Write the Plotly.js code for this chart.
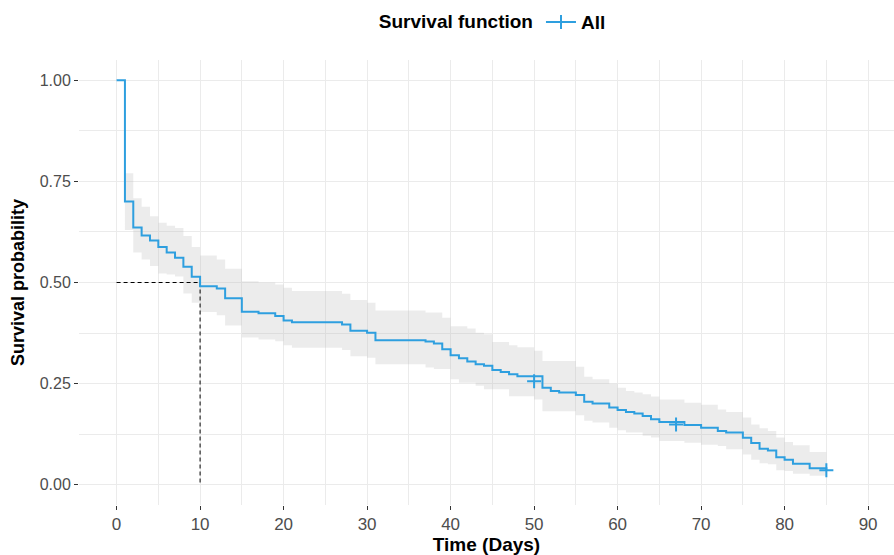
<!DOCTYPE html>
<html>
<head>
<meta charset="utf-8">
<script src="https://cdn.plot.ly/plotly-3.0.1.min.js"></script>
<style>html,body{margin:0;padding:0;background:#fff;}#chart{width:894px;height:555px;}</style>
</head>
<body>
<div id="chart"></div>
<script>
// Step times (days) and Kaplan-Meier estimates
const times = [0,1,2,3,4,5,6,7,8,9,10,12,13,15,17,19,20,21,27,28,30,31,37,38,39,40,41,42,43,44,45,46,47,48,50,51,52,53,55,56,57,59,60,61,62,63,64,65,68,70,72,73,75,76,77,78,79,80,81,83,85];
const surv  = [1.000,0.700,0.636,0.616,0.604,0.588,0.574,0.561,0.539,0.514,0.491,0.485,0.461,0.428,0.424,0.417,0.406,0.402,0.396,0.381,0.376,0.357,0.354,0.349,0.335,0.320,0.313,0.305,0.298,0.294,0.284,0.279,0.273,0.268,0.268,0.240,0.232,0.228,0.222,0.205,0.201,0.191,0.185,0.180,0.176,0.170,0.162,0.155,0.148,0.141,0.133,0.129,0.116,0.103,0.089,0.085,0.068,0.062,0.052,0.041,0.036];
const upper = [1.000,0.770,0.708,0.687,0.664,0.648,0.640,0.635,0.615,0.588,0.567,0.557,0.534,0.503,0.500,0.495,0.487,0.479,0.472,0.457,0.450,0.431,0.426,0.426,0.413,0.392,0.392,0.386,0.376,0.372,0.353,0.353,0.345,0.340,0.331,0.306,0.306,0.306,0.292,0.267,0.261,0.250,0.240,0.232,0.228,0.224,0.218,0.211,0.203,0.198,0.186,0.180,0.166,0.149,0.140,0.133,0.117,0.106,0.098,0.081,0.081];
const lower = [1.000,0.630,0.574,0.557,0.541,0.522,0.520,0.515,0.473,0.450,0.427,0.419,0.394,0.364,0.359,0.355,0.345,0.339,0.333,0.318,0.314,0.298,0.290,0.286,0.286,0.261,0.252,0.252,0.245,0.236,0.236,0.236,0.219,0.219,0.211,0.182,0.182,0.182,0.172,0.158,0.154,0.141,0.135,0.129,0.129,0.121,0.117,0.108,0.104,0.099,0.096,0.088,0.075,0.062,0.053,0.051,0.036,0.034,0.027,0.022,0.022];

// Censored observations
const censorTimes = [50, 67, 85];
const censorSurv  = [0.256, 0.149, 0.036];

// Median survival reference
const medianTime = 10;
const medianSurv = 0.5;

// Axis ticks
const xTicks = [0,10,20,30,40,50,60,70,80,90];
const yTicks = [0,0.25,0.5,0.75,1];

const blue = '#2E9FDF';

const traces = [
  {x: times, y: upper, type: 'scatter', mode: 'lines', line: {shape: 'hv', width: 0, color: 'rgba(0,0,0,0)'}, hoverinfo: 'skip', showlegend: false},
  {x: times, y: lower, type: 'scatter', mode: 'lines', line: {shape: 'hv', width: 0, color: 'rgba(0,0,0,0)'}, fill: 'tonexty', fillcolor: 'rgba(185,185,185,0.28)', hoverinfo: 'skip', showlegend: false},
  {x: [0, medianTime], y: [medianSurv, medianSurv], type: 'scatter', mode: 'lines', line: {color: '#000', width: 1, dash: '4px,3px'}, showlegend: false, hoverinfo: 'skip'},
  {x: [medianTime, medianTime], y: [medianSurv, 0], type: 'scatter', mode: 'lines', line: {color: '#000', width: 1, dash: '4px,3px'}, showlegend: false, hoverinfo: 'skip'},
  {x: times, y: surv, type: 'scatter', mode: 'lines', line: {shape: 'hv', width: 2, color: blue}, showlegend: false},
  {x: censorTimes, y: censorSurv, type: 'scatter', mode: 'markers', marker: {symbol: 'cross-thin', size: 10, color: blue, line: {color: blue, width: 2}}, showlegend: false},
  {x: [null], y: [null], type: 'scatter', mode: 'lines+markers', name: 'All', line: {width: 2, color: blue}, marker: {symbol: 'cross-thin', size: 10, color: blue, line: {color: blue, width: 2}}, showlegend: true}
];

const gridCol = '#ebebeb';
const layout = {
  width: 894, height: 555,
  margin: {l: 79, r: 0, t: 60, b: 50},
  paper_bgcolor: '#fff', plot_bgcolor: '#fff',
  font: {family: 'Liberation Sans, Arial, sans-serif', color: '#4d4d4d'},
  showlegend: true,
  legend: {
    orientation: 'h', x: 0.509, xanchor: 'center', y: 1.085, yanchor: 'middle',
    title: {text: 'Survival function', side: 'left', font: {size: 19, color: '#000', weight: 'bold'}},
    font: {size: 19, color: '#000', weight: 'bold'},
    itemwidth: 30
  },
  xaxis: {
    range: [-4.5, 93.1], tickvals: xTicks, ticktext: xTicks.map(String),
    showgrid: true, gridcolor: gridCol, gridwidth: 1,
    minor: {dtick: 5, tick0: 0, showgrid: true, gridcolor: gridCol, gridwidth: 1, ticks: ''},
    zeroline: false, showline: false,
    ticks: 'outside', ticklen: 4, tickwidth: 1, tickcolor: '#333',
    tickfont: {size: 17, color: '#4d4d4d'},
    title: {text: 'Time (Days)', font: {size: 19, color: '#000', weight: 'bold'}, standoff: 4}
  },
  yaxis: {
    range: [-0.05, 1.05], tickvals: yTicks, ticktext: yTicks.map(v => v.toFixed(2)),
    showgrid: true, gridcolor: gridCol, gridwidth: 1,
    minor: {dtick: 0.125, tick0: 0, showgrid: true, gridcolor: gridCol, gridwidth: 1, ticks: ''},
    zeroline: false, showline: false,
    ticks: 'outside', ticklen: 4, tickwidth: 1, tickcolor: '#333',
    tickfont: {size: 16, color: '#4d4d4d'},
    title: {text: 'Survival probability', font: {size: 18, color: '#000', weight: 'bold'}, standoff: 10}
  }
};

Plotly.newPlot('chart', traces, layout, {displayModeBar: false, staticPlot: true});
</script>
</body>
</html>
